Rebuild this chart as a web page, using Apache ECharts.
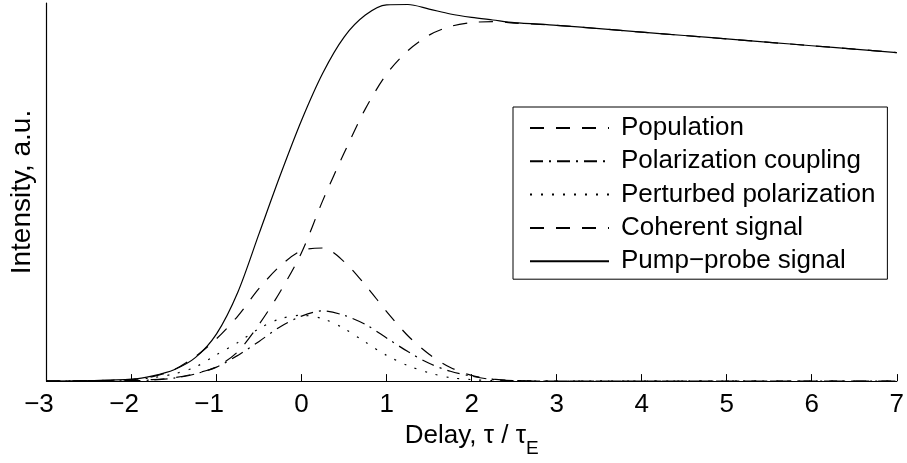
<!DOCTYPE html>
<html><head><meta charset="utf-8">
<script src="https://cdn.jsdelivr.net/npm/echarts@6/dist/echarts.min.js"></script>
<style>html,body{margin:0;padding:0;background:#fff}#c{width:907px;height:463px}</style>
</head><body><div id="c"></div>
<script>
// Delay values (tau / tau_E)
const tau = [-3,-2.5,-2,-1.75,-1.5,-1.25,-1,-0.75,-0.5,-0.25,0,0.25,0.5,0.75,1,1.25,1.5,1.75,2,2.25,2.5,3,3.5,4,4.5,5,5.5,6,6.5,7];
const population = [0,0.0005,0.002,0.004,0.009,0.02,0.038,0.078,0.15,0.237,0.34,0.478,0.603,0.72,0.812,0.874,0.915,0.938,0.948,0.951,0.947,0.941,0.932,0.923,0.914,0.905,0.896,0.887,0.878,0.869];
const polarizationCoupling = [0,0.0003,0.001,0.003,0.008,0.019,0.037,0.068,0.105,0.144,0.172,0.186,0.174,0.15,0.114,0.078,0.047,0.026,0.013,0.004,0.001,0,0,0,0,0,0,0,0,0];
const perturbedPolarization = [0,0.001,0.004,0.009,0.019,0.037,0.07,0.102,0.139,0.165,0.174,0.165,0.139,0.103,0.068,0.041,0.022,0.009,0.004,0.001,0,0,0,0,0,0,0,0,0,0];
const coherentSignal = [0,0.0005,0.004,0.012,0.03,0.065,0.112,0.172,0.245,0.305,0.345,0.352,0.316,0.254,0.184,0.12,0.071,0.036,0.015,0.005,0.0015,0,0,0,0,0,0,0,0,0];
const pumpProbe = [0,0.001,0.005,0.014,0.03,0.062,0.125,0.235,0.39,0.545,0.69,0.815,0.91,0.968,0.995,0.996,0.984,0.971,0.962,0.955,0.948,0.941,0.932,0.923,0.914,0.905,0.896,0.887,0.878,0.869];
const seriesNames = ['Population','Polarization coupling','Perturbed polarization','Coherent signal','Pump\u2212probe signal'];
const xTicks = {min:-3, max:7, step:1};

const FONT = '"Liberation Sans", Arial, Helvetica, sans-serif';
const zip = ys => tau.map((t,i) => [t, ys[i]]);
const dashStyles = [[14,12],[13,6,2,6],[2,9],[14,12],'solid'];
const dataSets = [population, polarizationCoupling, perturbedPolarization, coherentSignal, pumpProbe];

const chart = echarts.init(document.getElementById('c'), null, {renderer:'canvas'});
chart.setOption({
  animation:false,
  backgroundColor:'#fff',
  textStyle:{fontFamily:FONT},
  grid:{left:46.5, right:7, top:3, bottom:80, containLabel:false},
  legend:{
    orient:'vertical', left:513, top:107,
    data:seriesNames,
    itemWidth:79, itemHeight:14, itemGap:7.3,
    padding:[8,12,5,16],
    borderColor:'#000', borderWidth:1, backgroundColor:'#fff',
    itemStyle:{opacity:0},
    textStyle:{fontSize:26, color:'#000', fontFamily:FONT, lineHeight:26, padding:[0,0,0,7]},
    selectedMode:false
  },
  xAxis:{
    type:'value', min:xTicks.min, max:xTicks.max, interval:xTicks.step,
    name:'{m|Delay, \u03c4 / \u03c4}{sub|E}', nameLocation:'middle', nameGap:38,
    nameTextStyle:{color:'#000', fontFamily:FONT, rich:{
      m:{fontSize:26, fontFamily:FONT, color:'#000', lineHeight:28, verticalAlign:'top'},
      sub:{fontSize:19, fontFamily:FONT, color:'#000', lineHeight:19, verticalAlign:'top', padding:[16,0,0,0]}
    }},
    axisLine:{show:true, onZero:false, lineStyle:{color:'#000', width:1.2}},
    axisTick:{show:true, inside:true, length:7, lineStyle:{color:'#000', width:1}},
    axisLabel:{color:'#000', fontSize:26, fontFamily:FONT, margin:11,
      formatter:v => v < 0 ? '{n|\u2212' + Math.abs(v) + '}' : String(v),
      rich:{n:{fontSize:26, fontFamily:FONT, color:'#000', padding:[0,15,0,0]}}},
    splitLine:{show:false}
  },
  yAxis:{
    type:'value', min:0, max:1,
    name:'Intensity, a.u.', nameLocation:'middle', nameGap:10, nameRotate:90,
    nameTextStyle:{color:'#000', fontSize:28, fontFamily:FONT},
    axisLine:{show:true, onZero:false, lineStyle:{color:'#000', width:1.2}},
    axisTick:{show:false}, axisLabel:{show:false}, splitLine:{show:false}
  },
  series: seriesNames.map((n,i) => ({
    name:n, type:'line', data:zip(dataSets[i]),
    symbol:'none', showSymbol:false, smooth:0.3,
    lineStyle:{color:'#000', width:1.2, type:dashStyles[i]},
    itemStyle:{color:'#000'},
    z: i===4 ? 3 : 2
  }))
});
</script></body></html>
